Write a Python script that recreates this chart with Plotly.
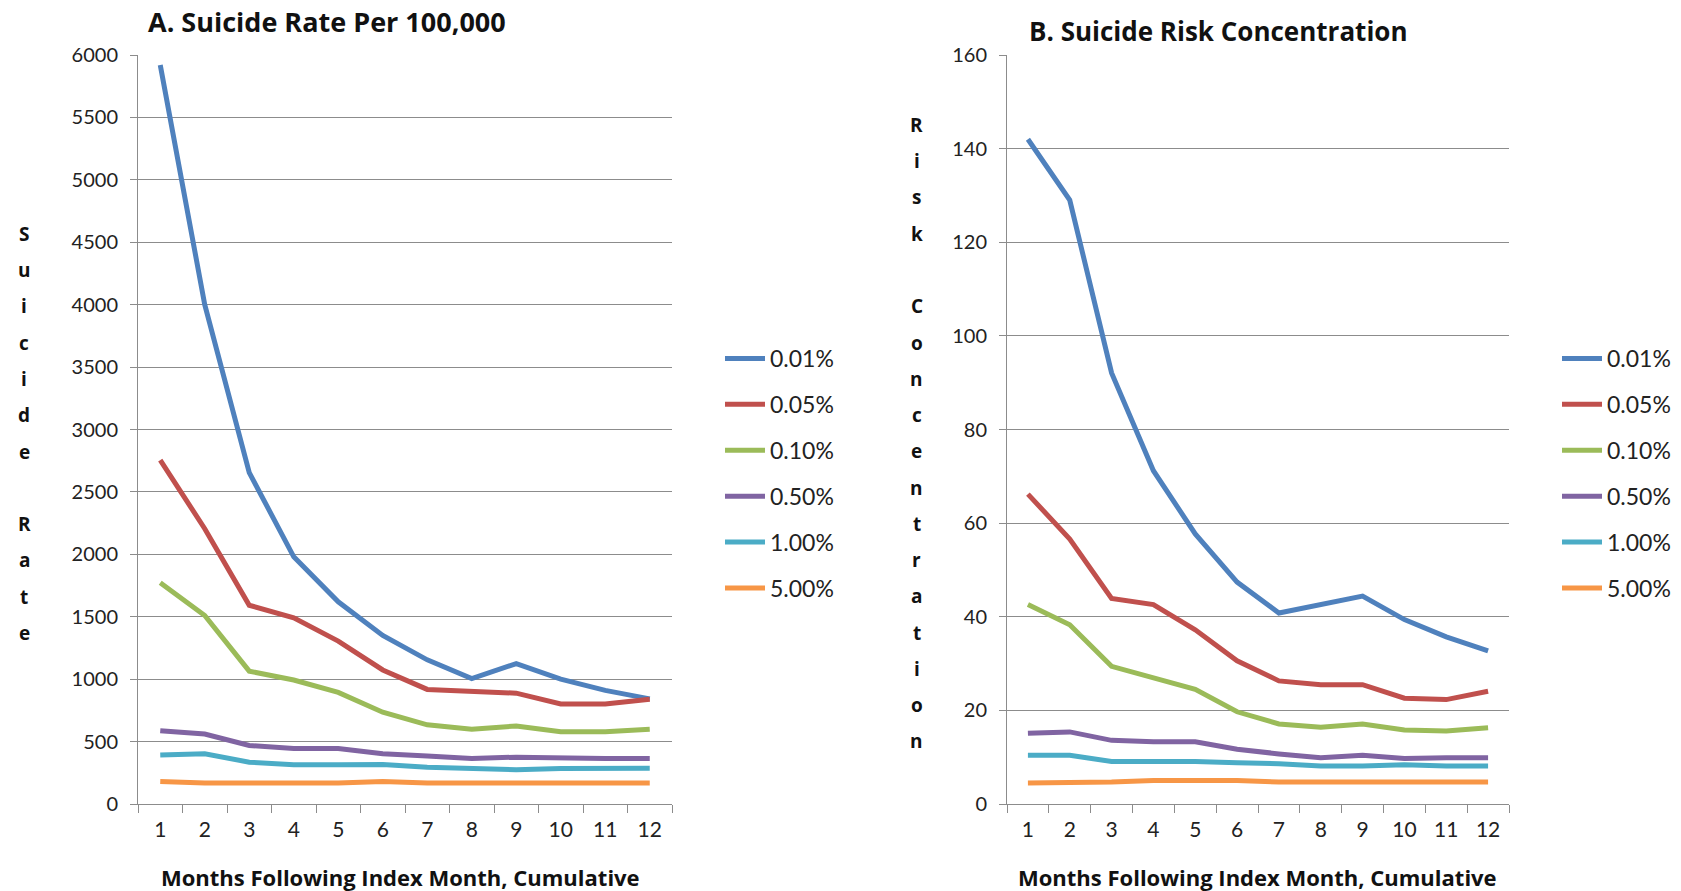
import plotly.graph_objects as go

months = ["1", "2", "3", "4", "5", "6", "7", "8", "9", "10", "11", "12"]
series_names = ["0.01%", "0.05%", "0.10%", "0.50%", "1.00%", "5.00%"]
colors = ["#4F81BD", "#C0504D", "#9BBB59", "#8064A2", "#4BACC6", "#F79646"]

# Panel A: Suicide rate per 100,000
rate_001 = [5920, 4000, 2655, 1980, 1620, 1350, 1155, 1005, 1125, 1000, 910, 842]
rate_005 = [2755, 2205, 1592, 1492, 1305, 1074, 918, 907, 888, 802, 802, 840]
rate_010 = [1772, 1510, 1064, 993, 894, 735, 634, 598, 625, 579, 579, 598]
rate_050 = [587, 560, 469, 445, 445, 403, 385, 365, 375, 365, 365, 365]
rate_100 = [392, 403, 335, 315, 315, 316, 295, 283, 275, 285, 286, 286]
rate_500 = [180, 168, 168, 168, 168, 180, 168, 168, 168, 168, 168, 168]

# Panel B: Suicide risk concentration
conc_001 = [142.0, 129.0, 92.1, 71.2, 57.7, 47.4, 40.8, 42.6, 44.4, 39.4, 35.7, 32.7]
conc_005 = [66.2, 56.6, 43.9, 42.6, 37.2, 30.6, 26.3, 25.5, 25.5, 22.6, 22.3, 24.1]
conc_010 = [42.6, 38.3, 29.4, 26.9, 24.5, 19.7, 17.1, 16.4, 17.1, 15.8, 15.6, 16.3]
conc_050 = [15.1, 15.4, 13.6, 13.3, 13.3, 11.7, 10.7, 9.9, 10.4, 9.7, 9.9, 9.9]
conc_100 = [10.4, 10.4, 9.1, 9.1, 9.1, 8.8, 8.6, 8.1, 8.1, 8.4, 8.1, 8.1]
conc_500 = [4.5, 4.5, 4.7, 5.0, 5.0, 5.0, 4.7, 4.7, 4.7, 4.7, 4.7, 4.7]

rates = [rate_001, rate_005, rate_010, rate_050, rate_100, rate_500]
concs = [conc_001, conc_005, conc_010, conc_050, conc_100, conc_500]

W, H = 1681, 891
FONT = "Lato"
BOLD = "Open Sans"
GRID = "#8c8c8c"

def px(x):
    return x / W

def py(y):
    return 1 - y / H

fig = go.Figure()

for i, (name, col) in enumerate(zip(series_names, colors)):
    fig.add_trace(go.Scatter(x=months, y=rates[i], mode="lines", name=name,
                             line=dict(color=col, width=5),
                             xaxis="x", yaxis="y", legend="legend",
                             legendgroup="a%d" % i))
for i, (name, col) in enumerate(zip(series_names, colors)):
    fig.add_trace(go.Scatter(x=months, y=concs[i], mode="lines", name=name,
                             line=dict(color=col, width=5),
                             xaxis="x2", yaxis="y2", legend="legend2",
                             legendgroup="b%d" % i))

ydom = [py(804), py(55)]
axis_common = dict(type="category", tickson="boundaries", ticks="outside", ticklen=8,
                   tickcolor=GRID, showgrid=False, showline=True, linecolor=GRID,
                   linewidth=1, tickfont=dict(family=FONT, size=21, color="#222"),
                   range=[-0.5, 11.5], automargin=False, ticklabelstandoff=7,
                   fixedrange=True)
yaxis_common = dict(showgrid=True, gridcolor=GRID, gridwidth=1, showline=True,
                    linecolor=GRID, linewidth=1, ticks="outside", ticklen=7,
                    tickcolor=GRID, zeroline=False, automargin=False,
                    ticklabelstandoff=8,
                    tickfont=dict(family=FONT, size=20, color="#222"),
                    tickformat="d", fixedrange=True)

legend_common = dict(font=dict(family=FONT, size=23, color="#222"),
                     tracegroupgap=13, bgcolor="rgba(0,0,0,0)",
                     xanchor="left", yanchor="top", itemwidth=40)

fig.update_layout(
    width=W, height=H,
    margin=dict(l=0, r=0, t=0, b=0),
    paper_bgcolor="white", plot_bgcolor="white",
    xaxis=dict(domain=[px(138), px(672)], anchor="y", **axis_common),
    yaxis=dict(domain=ydom, anchor="x", range=[0, 6000], dtick=500, **yaxis_common),
    xaxis2=dict(domain=[px(1007), px(1509)], anchor="y2", **axis_common),
    yaxis2=dict(domain=ydom, anchor="x2", range=[0, 160], dtick=20, **yaxis_common),
    legend=dict(x=px(720), y=py(337), **legend_common),
    legend2=dict(x=px(1557), y=py(337), **legend_common),
    showlegend=True,
)

annotations = []

def label(text, x, y, size, family=BOLD):
    annotations.append(dict(text="<b>%s</b>" % text, x=px(x), y=py(y),
                            xref="paper", yref="paper", showarrow=False,
                            xanchor="center", yanchor="middle",
                            font=dict(family=family, size=size, color="#111")))

label("A. Suicide Rate Per 100,000", 327, 21, 27)
label("B. Suicide Risk Concentration", 1218, 31, 26)
for cx in (400, 1257):
    label("Months Following Index Month, Cumulative", cx, 877, 22)

def vertical_title(text, x, y0, step):
    for k, ch in enumerate(text):
        if ch != " ":
            label(ch, x, y0 + k * step, 19)

vertical_title("Suicide Rate", 24, 234, 36.25)
vertical_title("Risk Concentration", 917, 125, 36.25)

fig.update_layout(annotations=annotations)
fig.write_html("out.html", config={"displayModeBar": False},
               post_script="document.body.style.margin='0';")
